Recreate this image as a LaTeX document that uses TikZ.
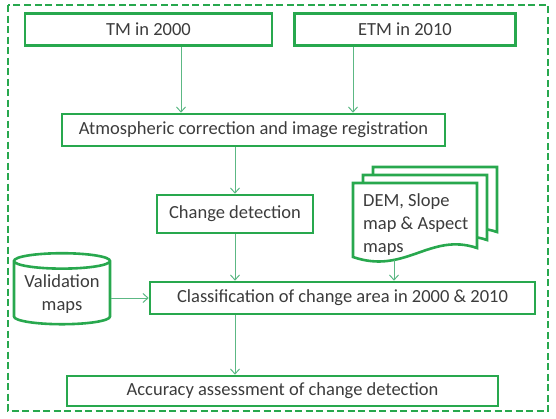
\documentclass[tikz,border=0pt]{standalone}
\usepackage{fontspec}
\setmainfont{Carlito}
\usepackage{xcolor}
\usetikzlibrary{positioning,arrows.meta,shapes.geometric,calc}
\definecolor{boxgreen}{RGB}{40,168,78}
\definecolor{arrowgreen}{RGB}{92,184,132}
\definecolor{textgray}{RGB}{60,60,60}

\begin{document}
\begin{tikzpicture}[
      x=1pt, y=-1pt,
      font=\fontsize{18.5}{23}\selectfont, text=textgray,
      boxline/.style={draw=boxgreen, line width=2.6pt},
      box/.style={boxline, rectangle, minimum height=32pt, inner sep=2pt,
                  align=center, fill=white},
      arr/.style={draw=arrowgreen, line width=1pt,
                  -{Straight Barb[length=5pt, width=9pt]}},
      docsheet/.pic={
        \draw[boxline, fill=white] (0,0) -- (124,0) -- (124,65)
          .. controls (77,49) and (52,92) .. (0,74) -- cycle;
      },
    ]
    \useasboundingbox (0,0) rectangle (556,418);

    \node[box, minimum width=247pt] (tm) at (148.5,29.5) {TM in 2000};
    \node[box, minimum width=221pt] (etm) at (405,29.5) {ETM in 2010};
    \node[box, minimum width=383pt] (atm) at (253.5,130)
      {Atmospheric correction and image registration};
    \node[box, minimum width=156pt, minimum height=38pt] (chg) at (235,214)
      {Change detection};
    \node[box, minimum width=385pt] (cls) at (342.5,298)
      {Classification of change area in 2000 \& 2010};
    \node[box, minimum width=431pt, minimum height=30pt] (acc) at (282.5,391)
      {Accuracy assessment of change detection};

    % stacked map sheets
    \pic at (373,167) {docsheet};
    \pic at (363,175) {docsheet};
    \pic at (353,183) {docsheet};
    \node[anchor=north west, align=left, inner sep=0pt] (dem) at (363,193)
      {DEM, Slope\\map \& Aspect\\maps};
    \coordinate (demtail) at (394,260);

    \node[boxline, cylinder, shape border rotate=90, aspect=0.2,
          minimum width=96pt, minimum height=71pt, align=center,
          inner sep=1pt, fill=white] (val) at (62,294) {Validation\\maps};

    \draw[arr] ([xshift=32.5pt]tm.south) -- ([xshift=32.5pt]tm.south |- atm.north);
    \draw[arr] ([xshift=-52pt]etm.south) -- ([xshift=-52pt]etm.south |- atm.north);
    \draw[arr] (atm.south -| chg.north) -- (chg.north);
    \draw[arr] (chg.south) -- (chg.south |- cls.north);
    \draw[arr] (demtail) -- (demtail |- cls.north);
    \draw[arr] (cls.west -| val.east) -- (cls.west);
    \draw[arr] (chg.south |- cls.south) -- (chg.south |- acc.north);

    \draw[draw=boxgreen, line width=2pt, dash pattern=on 7pt off 3.5pt]
      (8,5) rectangle (548,411);
  \end{tikzpicture}
\end{document}
